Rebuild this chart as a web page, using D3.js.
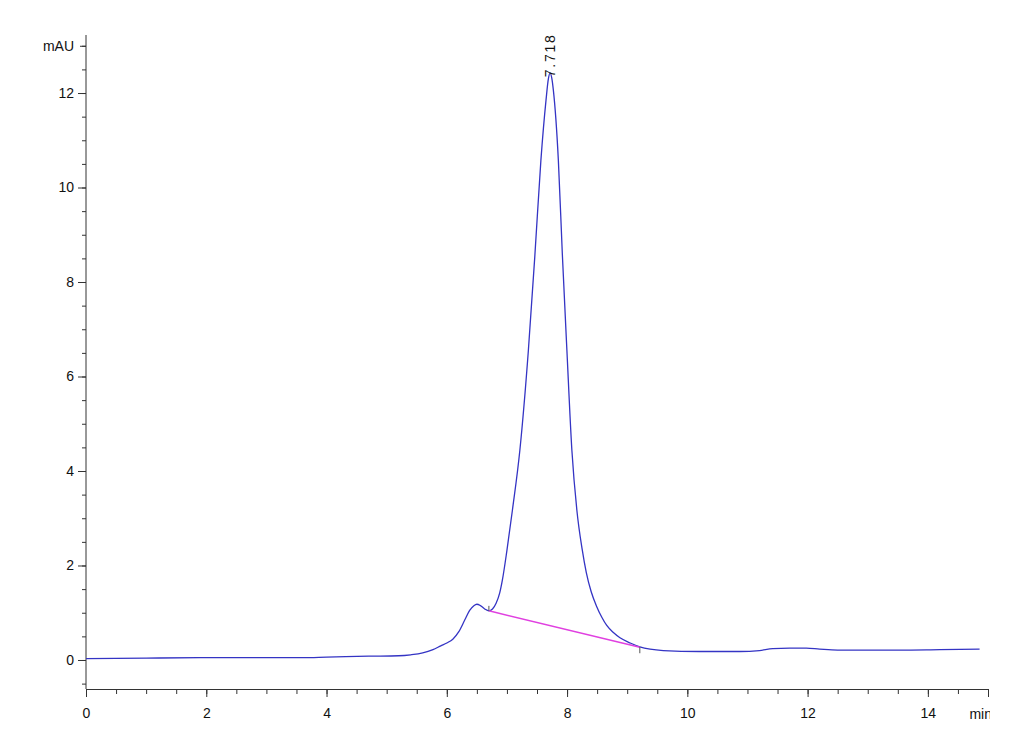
<!DOCTYPE html>
<html>
<head>
<meta charset="utf-8">
<script src="https://cdn.jsdelivr.net/npm/d3@7"></script>
<style>
  html, body { margin: 0; padding: 0; background: #ffffff; }
  svg { display: block; }
  text { font-family: "Liberation Sans", Arial, sans-serif; fill: #111; }
</style>
</head>
<body>
<svg id="chart" width="1030" height="755"></svg>
<script>
// ---- data ----
const timeMin = [0.0, 1.0, 2.0, 3.0, 3.6, 4.0, 4.7, 5.2, 5.4, 5.6, 5.77, 5.9, 6.0, 6.1, 6.2, 6.3, 6.38, 6.45, 6.5, 6.56, 6.63, 6.7, 6.76, 6.82, 6.88, 6.924, 7.0, 7.091, 7.215, 7.357, 7.465, 7.565, 7.65, 7.689, 7.718, 7.745, 7.772, 7.855, 7.922, 7.997, 8.08, 8.163, 8.25, 8.32, 8.40, 8.49, 8.58, 8.66, 8.77, 8.88, 9.05, 9.21, 9.38, 9.6, 10.2, 10.87, 11.2, 11.42, 11.7, 11.98, 12.2, 12.5, 13.0, 13.53, 14.2, 14.86];
const signalMAU = [0.03, 0.04, 0.05, 0.05, 0.05, 0.06, 0.08, 0.09, 0.11, 0.15, 0.22, 0.30, 0.36, 0.44, 0.60, 0.85, 1.05, 1.15, 1.18, 1.15, 1.08, 1.04, 1.08, 1.20, 1.42, 1.69, 2.32, 3.17, 4.44, 6.56, 8.57, 10.58, 11.85, 12.30, 12.42, 12.32, 12.06, 10.58, 8.57, 6.56, 4.44, 3.17, 2.35, 1.85, 1.45, 1.14, 0.90, 0.73, 0.58, 0.47, 0.36, 0.28, 0.23, 0.20, 0.18, 0.18, 0.20, 0.24, 0.25, 0.25, 0.23, 0.21, 0.21, 0.21, 0.22, 0.23];
const baselineTime = [6.70, 9.21];
const baselineMAU = [1.04, 0.27];
const peakTime = 7.718;
const peakMAU = 12.42;
const peakLabel = "7.718";
const xMajorTicks = [0, 2, 4, 6, 8, 10, 12, 14];
const yMajorTicks = [0, 2, 4, 6, 8, 10, 12];
const xUnitLabel = "min";
const yUnitLabel = "mAU";

// ---- scales ----
const svg = d3.select("#chart");
const x = d3.scaleLinear().domain([0, 15]).range([86, 988]);
const y = d3.scaleLinear().domain([-0.614, 13.228]).range([689, 35]);

const xMinor = d3.range(0, 15.01, 0.5);
const yMinor = d3.range(-0.5, 13.01, 0.5);

// ---- axes ----
const axisColor = "#333";
const gyMinor = svg.append("g").attr("transform", `translate(${x(0)},0)`)
  .call(d3.axisLeft(y).tickValues(yMinor).tickSize(4).tickFormat(""));
const gy = svg.append("g").attr("transform", `translate(${x(0)},0)`)
  .call(d3.axisLeft(y).tickValues(yMajorTicks).tickSize(8).tickPadding(4).tickFormat(d3.format("d")));
const gyUnit = svg.append("g").attr("transform", `translate(${x(0)},0)`)
  .call(d3.axisLeft(y).tickValues([13]).tickSize(6).tickPadding(6).tickFormat(() => yUnitLabel));

const gxMinor = svg.append("g").attr("transform", `translate(0,${y.range()[0]})`)
  .call(d3.axisBottom(x).tickValues(xMinor).tickSize(5).tickFormat(""));
const gx = svg.append("g").attr("transform", `translate(0,${y.range()[0]})`)
  .call(d3.axisBottom(x).tickValues(xMajorTicks).tickSize(8).tickPadding(11).tickFormat(d3.format("d")));

[gyMinor, gy, gyUnit, gxMinor, gx].forEach(g => {
  g.selectAll(".domain").attr("stroke", axisColor).attr("stroke-width", 1);
  g.selectAll(".tick line").attr("stroke", axisColor);
  g.selectAll("text").attr("font-size", 14).attr("fill", "#111")
    .attr("font-family", "'Liberation Sans', Arial, sans-serif");
});
[gyMinor, gy, gyUnit, gxMinor].forEach(g => g.select(".domain").remove());
svg.append("line")
  .attr("x1", x(0)).attr("x2", x(0))
  .attr("y1", y.range()[1]).attr("y2", y.range()[0])
  .attr("stroke", axisColor).attr("stroke-width", 1);

// x unit label, clipped at the axis end like the reference
svg.append("clipPath").attr("id", "unitclip").append("rect")
  .attr("x", 900).attr("y", 690).attr("width", x(15) + 2 - 900).attr("height", 40);
svg.append("text")
  .attr("clip-path", "url(#unitclip)")
  .attr("x", x(15) + 4).attr("y", 719)
  .attr("text-anchor", "end")
  .attr("font-size", 14)
  .text(xUnitLabel);

// ---- signal ----
const pts = timeMin.map((t, i) => [t, signalMAU[i]]);
const line = d3.line().x(d => x(d[0])).y(d => y(d[1])).curve(d3.curveMonotoneX);
svg.append("path")
  .datum(pts)
  .attr("fill", "none")
  .attr("stroke", "#3434c4")
  .attr("stroke-width", 1.3)
  .attr("stroke-linejoin", "round")
  .attr("d", line);

// integration baseline
const bpts = baselineTime.map((t, i) => [t, baselineMAU[i]]);
svg.append("path")
  .datum(bpts)
  .attr("fill", "none")
  .attr("stroke", "#e040e0")
  .attr("stroke-width", 1.5)
  .attr("d", d3.line().x(d => x(d[0])).y(d => y(d[1])));

// integration markers
svg.append("line")
  .attr("x1", x(baselineTime[0])).attr("x2", x(baselineTime[0]))
  .attr("y1", y(baselineMAU[0]) - 5).attr("y2", y(baselineMAU[0]))
  .attr("stroke", "#555").attr("stroke-width", 1);
svg.append("line")
  .attr("x1", x(baselineTime[1])).attr("x2", x(baselineTime[1]))
  .attr("y1", y(baselineMAU[1])).attr("y2", y(baselineMAU[1]) + 6)
  .attr("stroke", "#555").attr("stroke-width", 1);

// peak label
const px = x(peakTime) + 5, py = y(peakMAU) + 4;
svg.append("text")
  .attr("transform", `translate(${px},${py}) rotate(-90)`)
  .attr("font-size", 14)
  .attr("textLength", 42)
  .attr("lengthAdjust", "spacing")
  .text(peakLabel);
</script>
</body>
</html>
